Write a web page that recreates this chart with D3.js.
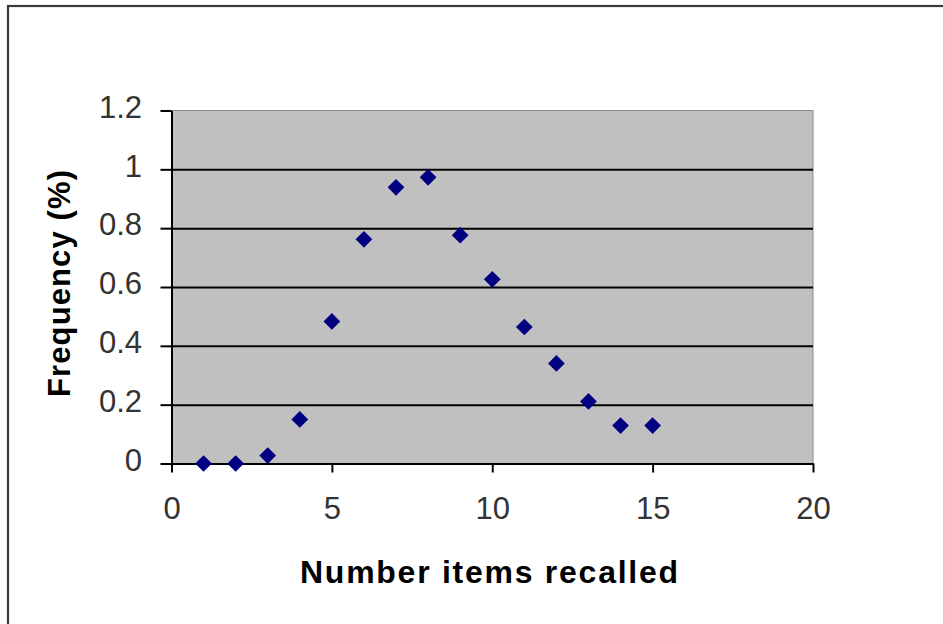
<!DOCTYPE html>
<html>
<head>
<meta charset="utf-8">
<script src="https://cdn.jsdelivr.net/npm/d3@7"></script>
<style>
  body { margin: 0; background: #fff; }
  svg { display: block; }
  text { font-family: "Liberation Sans", Arial, sans-serif; }
</style>
</head>
<body>
<svg id="chart" width="943" height="624"></svg>
<script>
// Recall distribution: share of participants by number of items recalled
const itemsRecalled = [1, 2, 3, 4, 5, 6, 7, 8, 9, 10, 11, 12, 13, 14, 15];
const frequency = [0, 0, 0.027, 0.15, 0.483, 0.762, 0.939, 0.973, 0.776, 0.626, 0.464, 0.34, 0.211, 0.129, 0.129];
const xTicks = [0, 5, 10, 15, 20];
const yTicks = [0, 0.2, 0.4, 0.6, 0.8, 1, 1.2];
const xTitle = "Number items recalled";
const yTitle = "Frequency (%)";

const svg = d3.select("#chart");

// Outer chart frame (right and bottom edges fall outside the view)
svg.append("rect")
  .attr("x", 8).attr("y", 6)
  .attr("width", 1000).attr("height", 700)
  .attr("fill", "#fff")
  .attr("stroke", "#3a3a3a")
  .attr("stroke-width", 2.2);

const plot = { left: 171.5, right: 813, top: 110.5, bottom: 463.5 };

const x = d3.scaleLinear().domain([0, 20]).range([plot.left, plot.right]);
const y = d3.scaleLinear().domain([0, 1.2]).range([plot.bottom, plot.top]);

// Plot area
svg.append("rect")
  .attr("x", plot.left).attr("y", plot.top)
  .attr("width", plot.right - plot.left)
  .attr("height", plot.bottom - plot.top)
  .attr("fill", "#c0c0c0")
  .attr("stroke", "#8a8a8a")
  .attr("stroke-width", 1);

// Horizontal gridlines
const grid = svg.append("g")
  .attr("transform", `translate(${plot.left},0)`)
  .call(d3.axisLeft(y)
    .tickValues(yTicks.filter(v => v > 0 && v < 1.2))
    .tickSize(-(plot.right - plot.left))
    .tickFormat(""));
grid.select(".domain").remove();
grid.selectAll(".tick line").attr("stroke", "#000").attr("stroke-width", 2);

// Y axis
const yAxis = svg.append("g")
  .attr("transform", `translate(${plot.left},0)`)
  .call(d3.axisLeft(y)
    .tickValues(yTicks)
    .tickSize(11)
    .tickSizeOuter(0)
    .tickPadding(18.5)
    .tickFormat(d3.format("~g")));
yAxis.select(".domain").attr("stroke", "#000").attr("stroke-width", 2);
yAxis.selectAll(".tick line").attr("stroke", "#000").attr("stroke-width", 2);
yAxis.selectAll(".tick text")
  .attr("dy", "0.22em")
  .attr("fill", "#333")
  .style("font-size", "31px");

// X axis
const xAxis = svg.append("g")
  .attr("transform", `translate(0,${plot.bottom})`)
  .call(d3.axisBottom(x)
    .tickValues(xTicks)
    .tickSize(9)
    .tickSizeOuter(0)
    .tickPadding(24)
    .tickFormat(d3.format("d")));
xAxis.select(".domain").attr("stroke", "#000").attr("stroke-width", 2);
xAxis.selectAll(".tick line").attr("stroke", "#000").attr("stroke-width", 2);
xAxis.selectAll(".tick text")
  .attr("fill", "#333")
  .style("font-size", "31px");

// Diamond markers
svg.append("g")
  .selectAll("path")
  .data(itemsRecalled.map((v, i) => ({ x: v, y: frequency[i] })))
  .join("path")
  .attr("d", d3.symbol(d3.symbolSquare, 140)())
  .attr("transform", d => `translate(${x(d.x)},${y(d.y)}) rotate(45)`)
  .attr("fill", "#000080");

// Axis titles
svg.append("text")
  .attr("x", 489).attr("y", 583)
  .attr("text-anchor", "middle")
  .attr("textLength", 378)
  .attr("lengthAdjust", "spacing")
  .style("font-size", "32px")
  .style("font-weight", "bold")
  .attr("fill", "#000")
  .text(xTitle);

svg.append("text")
  .attr("transform", "translate(70,283.5) rotate(-90)")
  .attr("text-anchor", "middle")
  .attr("textLength", 227)
  .attr("lengthAdjust", "spacing")
  .style("font-size", "31px")
  .style("font-weight", "bold")
  .attr("fill", "#000")
  .text(yTitle);
</script>
</body>
</html>
